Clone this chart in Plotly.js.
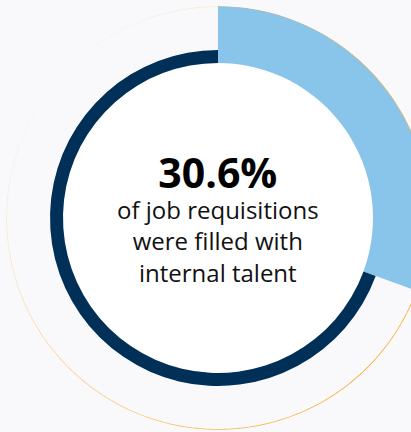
<!DOCTYPE html>
<html>
<head>
<meta charset="utf-8">
<script src="https://cdn.plot.ly/plotly-3.0.1.min.js"></script>
<style>
html,body{margin:0;padding:0;overflow:hidden;background:#f9f9fc;}
#chart{width:436px;height:432px;}
</style>
</head>
<body>
<div id="chart"></div>
<script>
// ---- data ----
const categories = ['Filled with internal talent', 'Other'];
const shares = [30.6, 69.4];            // percent of job requisitions
const headline = '30.6%';
const captionLines = ['of job requisitions', 'were filled with', 'internal talent'];

// ---- styling ----
const BG = '#f9f9fc';
const NAVY = '#003057';
const BLUE = '#89c4ea';
const R_OUT = 212, R_RING = 168, R_IN = 155;

const traces = [];
// white inner disc
traces.push({type:'barpolar', r:[R_IN], base:[0], theta:[180], width:[360],
  marker:{color:'#ffffff', line:{width:0}}, hoverinfo:'skip', showlegend:false});

// slices from data
const startAngles = [];
let acc = 0;
shares.forEach(v => { startAngles.push(acc); acc += v/100*360; });
const widths = shares.map(v => v/100*360);
const centers = startAngles.map((s,i) => s + widths[i]/2);

// internal talent wedge (light blue, outer band)
traces.push({type:'barpolar', name:categories[0], r:[R_OUT - R_IN], base:[R_IN],
  theta:[centers[0]], width:[widths[0]],
  marker:{color:BLUE, line:{width:0}}, hoverinfo:'skip', showlegend:false});
// remainder (navy ring)
traces.push({type:'barpolar', name:categories[1], r:[R_RING - R_IN], base:[R_IN],
  theta:[centers[1]], width:[widths[1]],
  marker:{color:NAVY, line:{width:0}}, hoverinfo:'skip', showlegend:false});

// outer thin gradient circle (decoration)
const SEG = 36;
for (let k = 0; k < SEG; k++) {
  const a0 = k*360/SEG, a1 = (k+1)*360/SEG;
  const mid = (a0+a1)/2;
  const w = (1 + Math.cos((mid-130)*Math.PI/180))/2;
  const alpha = 0.05 + 0.95*w;
  const th = [], rr = [];
  for (let j = 0; j <= 6; j++) { th.push(a0 + (a1-a0)*j/6); rr.push(R_OUT - 0.5); }
  traces.push({type:'scatterpolar', mode:'lines', r:rr, theta:th, cliponaxis:false,
    line:{color:'rgba(248,182,72,'+alpha.toFixed(3)+')', width:1.2},
    hoverinfo:'skip', showlegend:false});
}

const W = 436, H = 432, CX = 218, CY = 218;
const layout = {
  width:W, height:H,
  margin:{l:0,r:0,t:0,b:0},
  paper_bgcolor:BG, plot_bgcolor:BG,
  showlegend:false,
  polar:{
    domain:{x:[(CX-R_OUT)/W,(CX+R_OUT)/W], y:[1-(CY+R_OUT)/H, 1-(CY-R_OUT)/H]},
    bgcolor:BG,
    hole:0,
    barmode:'overlay',
    radialaxis:{range:[0,R_OUT], visible:false, showgrid:false},
    angularaxis:{rotation:90, direction:'clockwise', showline:false, showgrid:false,
      showticklabels:false, ticks:''}
  },
  annotations:[
    {xref:'paper', yref:'paper', x:CX/W, y:1-216/H, xanchor:'center', yanchor:'middle',
      text:'<span style="font-size:41px;font-weight:bold;color:#000000">'+headline+'</span><br>'+captionLines.join('<br>'),
      showarrow:false,
      font:{family:'Open Sans', size:24, color:'#111111'}}
  ]
};
Plotly.newPlot('chart', traces, layout, {displayModeBar:false, staticPlot:true});
</script>
</body>
</html>
